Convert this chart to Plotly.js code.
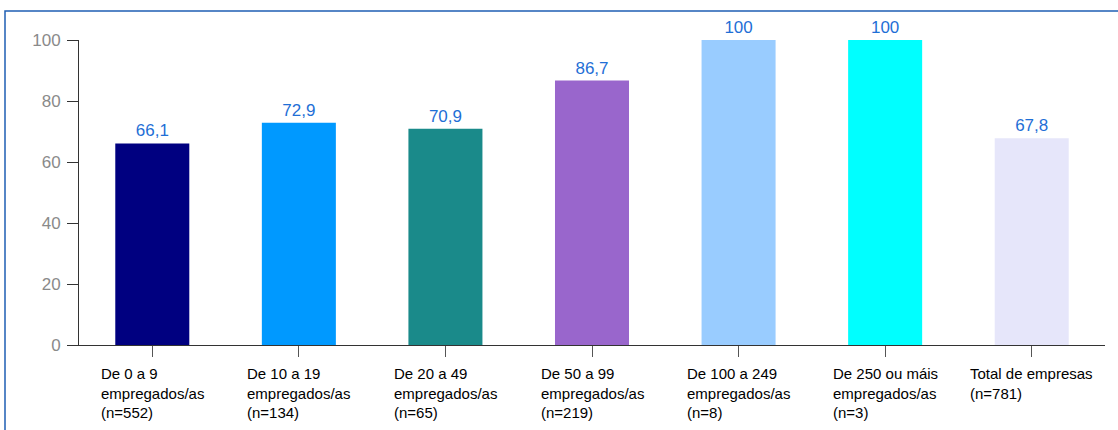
<!DOCTYPE html>
<html>
<head>
<meta charset="utf-8">
<script src="https://cdn.plot.ly/plotly-3.0.1.min.js"></script>
<style>html,body{margin:0;padding:0;background:#fff;}#chart{width:1118px;height:430px;}</style>
</head>
<body>
<div id="chart"></div>
<script>
const categories = ["De 0 a 9<br>empregados/as<br>(n=552)", "De 10 a 19<br>empregados/as<br>(n=134)", "De 20 a 49<br>empregados/as<br>(n=65)", "De 50 a 99<br>empregados/as<br>(n=219)", "De 100 a 249<br>empregados/as<br>(n=8)", "De 250 ou máis<br>empregados/as<br>(n=3)", "Total de empresas<br>(n=781)"];
const values = [66.1, 72.9, 70.9, 86.7, 100, 100, 67.8];
const valueLabels = ["66,1", "72,9", "70,9", "86,7", "100", "100", "67,8"];
const barColors = ["#000080", "#0099FF", "#1A8A8A", "#9966CC", "#99CCFF", "#00FFFF", "#E6E6FA"];
const yTicks = [0, 20, 40, 60, 80, 100];

const idx = categories.map((c, i) => i);
const FONT = "Liberation Sans, Arial, sans-serif";

const trace = {
  type: "bar",
  x: idx,
  y: values,
  text: valueLabels,
  textposition: "outside",
  cliponaxis: false,
  textfont: {family: FONT, size: 17, color: "#1F6FD6"},
  marker: {color: barColors, line: {width: 0}},
  hoverinfo: "skip"
};

const annotations = categories.map((c, i) => ({
  x: i, xref: "x", y: -0.06, yref: "paper",
  xanchor: "center", yanchor: "top", align: "left",
  text: c, showarrow: false,
  font: {family: FONT, size: 15, color: "#000"}
}));

const layout = {
  width: 1118, height: 430,
  margin: {l: 79, r: 13, t: 40, b: 85},
  paper_bgcolor: "#fff", plot_bgcolor: "#fff",
  showlegend: false,
  bargap: 0.495,
  xaxis: {
    range: [-0.5, categories.length - 0.5],
    tickvals: idx, ticktext: idx.map(() => ""),
    showticklabels: false,
    ticks: "outside", ticklen: 11, tickcolor: "#555", tickwidth: 1,
    showline: true, linecolor: "#333", linewidth: 1,
    showgrid: false, zeroline: false, fixedrange: true
  },
  yaxis: {
    range: [0, 100],
    tickvals: yTicks,
    ticks: "outside", ticklen: 11, tickcolor: "#333", tickwidth: 1,
    ticklabelstandoff: 3,
    showline: true, linecolor: "#333", linewidth: 1,
    showgrid: false, zeroline: false,
    tickfont: {family: FONT, size: 17, color: "#8A8A8A"},
    fixedrange: true
  },
  annotations: annotations,
  shapes: [{
    type: "rect", xref: "paper", yref: "paper",
    x0: (5 - 79) / 1026, x1: 1.2, y0: -0.5, y1: (345 - 11) / 305,
    line: {color: "#1F5FB4", width: 1.5}, fillcolor: "rgba(0,0,0,0)", layer: "below"
  }]
};

Plotly.newPlot("chart", [trace], layout, {displayModeBar: false, staticPlot: true});
</script>
</body>
</html>
